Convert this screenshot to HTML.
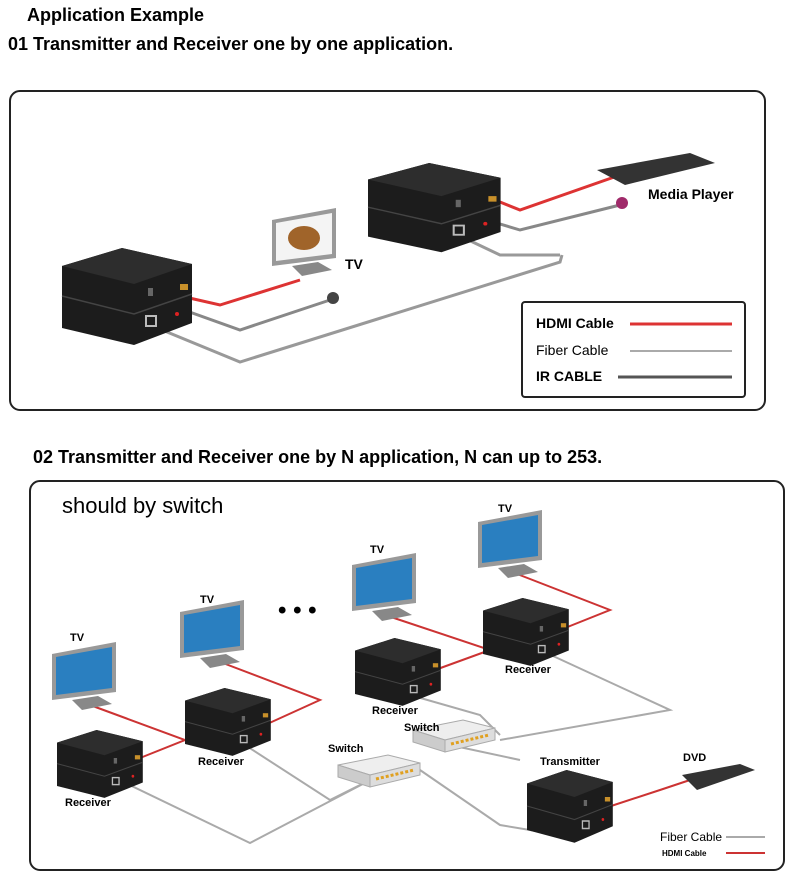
<!DOCTYPE html>
<html><head><meta charset="utf-8"><style>
body{margin:0;background:#fff;width:800px;height:875px;overflow:hidden;font-family:"Liberation Sans",Arial,sans-serif}
svg{position:absolute;left:0;top:0}
</style></head><body>
<svg width="800" height="875" viewBox="0 0 800 875" font-family="Liberation Sans, Arial, sans-serif">
<defs>
<g id="dev">
 <polygon points="0,18 60,0 130,16 130,75 72,97 0,80" fill="#1c1c1c"/>
 <polygon points="0,18 60,0 130,16 72,36" fill="#2d2d2d"/>
 <polyline points="0,48 72,66 130,46" fill="none" stroke="#444" stroke-width="1.5"/>
 <rect x="84" y="68" width="10" height="10" fill="none" stroke="#bbb" stroke-width="2"/>
 <rect x="86" y="40" width="5" height="8" fill="#666"/>
 <rect x="118" y="36" width="8" height="6" fill="#c8902a"/>
 <circle cx="115" cy="66" r="2" fill="#d22"/>
</g>
<g id="tv">
 <polygon points="0,12 64,0 64,50 0,58" fill="#999"/>
 <polygon points="4,15 60,5 60,46 4,53" fill="#2a7fc0"/>
 <polygon points="20,58 46,54 60,62 30,68" fill="#888"/>
</g>
<g id="tv1">
 <polygon points="0,12 64,0 64,50 0,58" fill="#999"/>
 <polygon points="4,15 60,5 60,46 4,53" fill="#f4f4f4"/>
 <ellipse cx="32" cy="30" rx="16" ry="12" fill="#a0642a"/>
 <polygon points="20,58 46,54 60,62 30,68" fill="#888"/>
</g>
<g id="sw">
 <polygon points="0,10 50,0 82,8 32,20" fill="#eee" stroke="#aaa"/>
 <polygon points="0,10 32,20 32,32 0,22" fill="#ccc" stroke="#aaa"/>
 <polygon points="32,20 82,8 82,20 32,32" fill="#ddd" stroke="#aaa"/>
 <polyline points="38,24 76,15" stroke="#e0a020" stroke-width="3" stroke-dasharray="3,2"/>
</g>
</defs>

<text x="27" y="21" font-size="18" font-weight="bold">Application Example</text>
<text x="8" y="50" font-size="18" font-weight="bold">01 Transmitter and Receiver one by one application.</text>
<rect x="10" y="91" width="755" height="319" rx="10" fill="none" stroke="#222" stroke-width="2"/>

<polyline points="150,325 240,362 560,262 562,255" fill="none" stroke="#999" stroke-width="3"/>
<polyline points="560,255 500,255 460,236" fill="none" stroke="#999" stroke-width="3"/>
<polyline points="170,305 240,330 330,300" fill="none" stroke="#888" stroke-width="3"/>
<circle cx="333" cy="298" r="6" fill="#444"/>
<polyline points="185,297 220,305 300,280" fill="none" stroke="#d33" stroke-width="3"/>
<polyline points="490,198 520,210 620,175" fill="none" stroke="#d33" stroke-width="3"/>
<polyline points="470,215 520,230 620,205" fill="none" stroke="#888" stroke-width="3"/>
<circle cx="622" cy="203" r="6" fill="#a02a6a"/>
<use href="#dev" x="62" y="248"/>
<use href="#dev" transform="translate(368 163) scale(1.02 0.92)"/>
<use href="#tv1" x="272" y="208"/>
<text x="345" y="269" font-size="14" font-weight="bold">TV</text>
<polygon points="597,170 690,153 715,163 625,185" fill="#333"/>
<text x="648" y="199" font-size="14" font-weight="bold">Media Player</text>

<rect x="522" y="302" width="223" height="95" rx="3" fill="#fff" stroke="#222" stroke-width="2"/>
<text x="536" y="328" font-size="14" font-weight="bold">HDMI Cable</text>
<line x1="630" y1="324" x2="732" y2="324" stroke="#d33" stroke-width="3"/>
<text x="536" y="355" font-size="14">Fiber Cable</text>
<line x1="630" y1="351" x2="732" y2="351" stroke="#aaa" stroke-width="2"/>
<text x="536" y="381" font-size="14" font-weight="bold">IR CABLE</text>
<line x1="618" y1="377" x2="732" y2="377" stroke="#555" stroke-width="3"/>

<text x="33" y="463" font-size="18" font-weight="bold">02 Transmitter and Receiver one by N application, N can up to 253.</text>
<rect x="30" y="481" width="754" height="389" rx="10" fill="none" stroke="#222" stroke-width="2"/>
<text x="62" y="513" font-size="22">should by switch</text>

<g fill="none" stroke="#aaa" stroke-width="2">
<polyline points="115,778 250,843 380,775"/>
<polyline points="245,745 330,800 370,780"/>
<polyline points="410,695 480,715 500,735"/>
<polyline points="540,650 670,710 500,740"/>
<polyline points="420,770 500,825 560,835"/>
<polyline points="450,745 520,760"/>
</g>
<g fill="none" stroke="#c33" stroke-width="2">
<polyline points="90,705 185,740 135,760"/>
<polyline points="215,660 320,700 265,725"/>
<polyline points="385,615 490,650 435,670"/>
<polyline points="512,572 610,610 560,630"/>
<polyline points="605,808 660,790 690,780"/>
</g>
<use href="#dev" transform="translate(57 730) scale(0.66 0.7)"/>
<use href="#dev" transform="translate(185 688) scale(0.66 0.7)"/>
<use href="#dev" transform="translate(355 638) scale(0.66 0.7)"/>
<use href="#dev" transform="translate(483 598) scale(0.66 0.7)"/>
<use href="#dev" transform="translate(527 770) scale(0.66 0.75)"/>
<use href="#tv" x="52" y="642"/>
<use href="#tv" x="180" y="600"/>
<use href="#tv" x="352" y="553"/>
<use href="#tv" x="478" y="510"/>
<use href="#sw" x="338" y="755"/>
<use href="#sw" x="413" y="720"/>
<polygon points="682,775 740,764 755,770 697,790" fill="#333"/>
<g font-size="11" font-weight="bold">
<text x="70" y="641">TV</text><text x="200" y="603">TV</text><text x="370" y="553">TV</text><text x="498" y="512">TV</text>
<text x="65" y="806">Receiver</text><text x="198" y="765">Receiver</text><text x="372" y="714">Receiver</text><text x="505" y="673">Receiver</text>
<text x="328" y="752">Switch</text><text x="404" y="731">Switch</text>
<text x="540" y="765">Transmitter</text><text x="683" y="761">DVD</text>
</g>
<text x="278" y="618" font-size="24" font-weight="bold">• • •</text>
<text x="660" y="841" font-size="12">Fiber Cable</text>
<line x1="726" y1="837" x2="765" y2="837" stroke="#aaa" stroke-width="2"/>
<text x="662" y="856" font-size="8" font-weight="bold">HDMI Cable</text>
<line x1="726" y1="853" x2="765" y2="853" stroke="#c33" stroke-width="2"/>
</svg>
</body></html>
